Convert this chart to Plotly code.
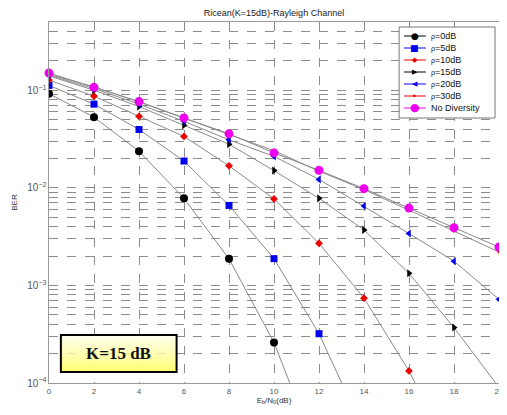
import plotly.graph_objects as go

snr_db = [0, 2, 4, 6, 8, 10, 12, 14, 16, 18, 20]

ber_rho0 = [0.092, 0.053, 0.0237, 0.0078, 0.00187, 0.00026, 0.000017]
ber_rho5 = [0.112, 0.072, 0.0396, 0.0188, 0.0066, 0.00188, 0.00032, 0.000032]
ber_rho10 = [0.127, 0.087, 0.054, 0.0336, 0.0168, 0.0077, 0.0027, 0.00074, 0.000133, 0.000016]
ber_rho15 = [0.140, 0.100, 0.068, 0.0437, 0.028, 0.015, 0.0078, 0.0037, 0.00133, 0.00037, 0.00009]
ber_rho20 = [0.143, 0.104, 0.072, 0.048, 0.031, 0.021, 0.0122, 0.0065, 0.0034, 0.00177, 0.00072]
ber_rho30 = [0.146, 0.108, 0.076, 0.052, 0.0355, 0.0240, 0.0148, 0.0096, 0.0059, 0.0036, 0.0022]
ber_nodiv = [0.150, 0.107, 0.0765, 0.052, 0.0357, 0.0228, 0.0151, 0.0098, 0.0062, 0.0039, 0.00247]

legend_names = ["\u03c1=0dB", "\u03c1=5dB", "\u03c1=10dB", "\u03c1=15dB",
                "\u03c1=20dB", "\u03c1=30dB", "No Diversity"]

# name, values, color, symbol, size, clip, legend glyph, glyph size
series = [
    (legend_names[0], ber_rho0, "black", "circle", 8, True, "\u25cf", 9),
    (legend_names[1], ber_rho5, "#0000ee", "square", 7, True, "\u25a0", 9),
    (legend_names[2], ber_rho10, "#ee0000", "diamond", 6, True, "\u25c6", 7),
    (legend_names[3], ber_rho15, "black", "triangle-right", 7, True, "\u25b6", 7),
    (legend_names[4], ber_rho20, "#0000ee", "triangle-left", 7, False, "\u25c0", 7),
    (legend_names[5], ber_rho30, "#ee0000", "circle", 3, False, "\u2022", 8),
    (legend_names[6], ber_nodiv, "#ee00ee", "circle", 9, False, "\u25cf", 11),
]

fig = go.Figure()
for name, vals, color, sym, size, clip, _, _ in series:
    fig.add_trace(go.Scatter(
        x=snr_db[:len(vals)], y=vals, name=name, mode="lines+markers",
        line=dict(color="#8a8a8a", width=1),
        marker=dict(color=color, symbol=sym, size=size, line=dict(width=0)),
        cliponaxis=clip, showlegend=False,
    ))

# plot-area pixel -> paper helpers (plot area in window: x 49..504, y 22..383)
def px(x):
    return (x - 49) / 455.0

def py(y):
    return (383 - y) / 361.0

# custom compact legend
fig.add_shape(type="rect", xref="paper", yref="paper", x0=px(403), x1=px(500), y0=py(118), y1=py(27),
              fillcolor="white", line=dict(color="#777", width=1), layer="above")
for i, (name, vals, color, sym, size, clip, glyph, gsize) in enumerate(series):
    yy = py(36 + 12 * i)
    fig.add_shape(type="line", xref="paper", yref="paper", x0=px(408), x1=px(430), y0=yy, y1=yy,
                  line=dict(color=color, width=1), layer="above")
    fig.add_annotation(xref="paper", yref="paper", x=px(419), y=yy, text=glyph, showarrow=False,
                       xanchor="center", yanchor="middle",
                       font=dict(size=gsize, color=color, family="DejaVu Sans"))
    label = name.replace("\u03c1", "<span style='font-size:7px'>\u03c1</span>")
    fig.add_annotation(xref="paper", yref="paper", x=px(433), y=yy, text=label, showarrow=False,
                       xanchor="left", yanchor="middle",
                       font=dict(size=9, color="#111", family="Liberation Sans"))

# gradient-filled K box
x0, x1, y0, y1 = px(61), px(178), py(372), py(335)
n = 12
for i in range(n):
    t = i / (n - 1)
    b = int(235 - 120 * t)
    fig.add_shape(type="rect", xref="paper", yref="paper",
                  x0=x0, x1=x1, y0=y1 - (y1 - y0) * (i + 1) / n, y1=y1 - (y1 - y0) * i / n,
                  fillcolor=f"rgb(255,255,{b})", line=dict(width=0), layer="above")
fig.add_shape(type="rect", xref="paper", yref="paper", x0=x0, x1=x1, y0=y0, y1=y1,
              line=dict(color="black", width=2), layer="above")
fig.add_annotation(xref="paper", yref="paper", x=(x0 + x1) / 2, y=(y0 + y1) / 2,
                   xanchor="center", yanchor="middle",
                   text="<b>K=15 dB</b>", showarrow=False,
                   font=dict(family="Liberation Serif", size=17, color="#111"))

axis_common = dict(
    showline=True, linecolor="#999", linewidth=1, mirror=True,
    gridcolor="#8c8c8c", griddash="dash", gridwidth=1,
    ticks="", tickfont=dict(size=8, color="#555", family="Liberation Sans"),
    zeroline=False, ticklabeloverflow="allow",
)
fig.update_xaxes(range=[0, 20], dtick=2, tick0=0,
                 title=dict(text="E<sub>b</sub>/N<sub>0</sub>(dB)", standoff=2,
                            font=dict(size=8, color="#333", family="Liberation Sans")),
                 **axis_common)
fig.update_yaxes(type="log", range=[-4, -0.30103], dtick=1,
                 exponentformat="power", showexponent="all",
                 minor=dict(showgrid=True, gridcolor="#8c8c8c", griddash="dash", gridwidth=1, dtick="D1"),
                 title=dict(text="BER", standoff=8,
                            font=dict(size=8, color="#333", family="Liberation Sans")),
                 **axis_common)

# the page body adds an 8px offset, so the figure is sized/margined to compensate
fig.update_layout(
    width=499, height=407,
    margin=dict(l=41, r=3, t=14, b=32),
    paper_bgcolor="white", plot_bgcolor="white",
    title=dict(text="Ricean(K=15dB)-Rayleigh Channel", xref="paper", x=0.5, xanchor="center",
               y=0.995, yanchor="top",
               font=dict(size=9, color="#222", family="Liberation Sans")),
    showlegend=False,
)

fig.write_html("out.html")
